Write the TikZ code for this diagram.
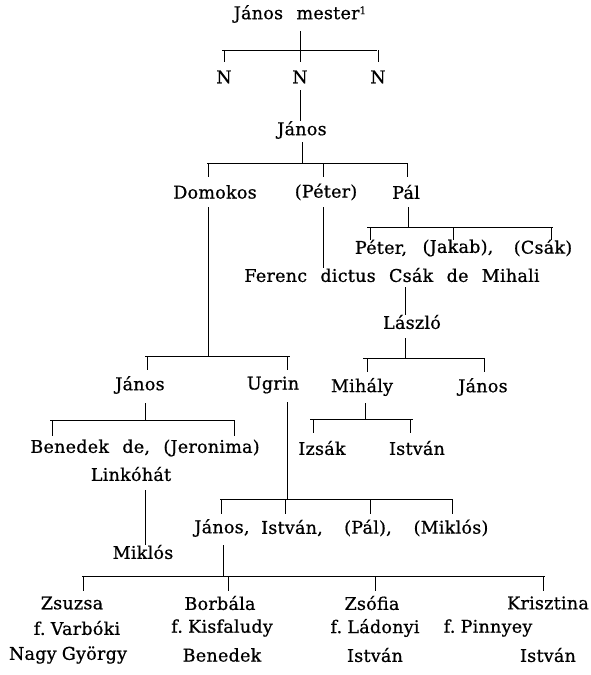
\documentclass[tikz,border=0pt]{standalone}
\usepackage{fontspec}
\setmainfont{DejaVu Serif}[LetterSpace=1.5,WordSpace=2.3,FakeBold=0.8]
\newcommand{\nsp}{\hspace{0.3em}}
\begin{document}
\begin{tikzpicture}[x=1pt,y=-1pt,
    person/.style={inner sep=0pt,font=\fontsize{17.5}{26}\selectfont},
    branch/.style={line width=0.8pt}]
  \useasboundingbox (0,0) rectangle (590,675);

  % Names
  \node[person] (jm) at (300,14) {János mester\raisebox{5pt}{\fontsize{10.5}{10}\selectfont 1}};
  \node[person] (na) at (224,77) {N};
  \node[person] (nb) at (300,77) {N};
  \node[person] (nc) at (378,77) {N};
  \node[person] (j1) at (302,130) {János};
  \node[person] (dom) at (215,192) {Domokos};
  \node[person] (pet) at (326,192) {(Péter)};
  \node[person] (pal) at (406,192) {Pál};
  \node[person] (pe2) at (381,248) {Péter,};
  \node[person] (jak) at (458,248) {(Jakab),};
  \node[person] (csk) at (543,248) {(Csák)};
  \node[person] (fer) at (392,275) {Ferenc dictus Csák de Mihali};
  \node[person] (las) at (412,322) {László};
  \node[person] (mih) at (362,387) {Mihály};
  \node[person] (j2) at (483,387) {János};
  \node[person] (j3) at (140,385) {János};
  \node[person] (ugr) at (273,385) {Ugrin};
  \node[person] (ben) at (145,448) {Benedek de, (Jeronima)};
  \node[person] (lin) at (131,474) {Linkóhát};
  \node[person] (izs) at (322,448) {Izsák};
  \node[person] (ist) at (417,448) {István};
  \node[person] (j4) at (222,528) {János,};
  \node[person] (is2) at (292,528) {István,};
  \node[person] (pa2) at (368,528) {(Pál),};
  \node[person] (mk2) at (451,528) {(Miklós)};
  \node[person] (mik) at (143,552) {Miklós};
  % Daughters
  \node[person] (zsu) at (72,603) {Zsuzsa};
  \node[person] (zsuh) at (77,628) {f.\nsp Varbóki};
  \node[person] (zsun) at (68,655) {Nagy\nsp György};
  \node[person] (bor) at (220,603) {Borbála};
  \node[person] (borh) at (222,628) {f.\nsp Kisfaludy};
  \node[person] (born) at (222,655) {Benedek};
  \node[person] (zso) at (372,603) {Zsófia};
  \node[person] (zsoh) at (375,628) {f.\nsp Ládonyi};
  \node[person] (zson) at (375,655) {István};
  \node[person] (kri) at (548,603) {Krisztina};
  \node[person] (krih) at (488,628) {f.\nsp Pinnyey};
  \node[person] (krin) at (548,655) {István};

  % Bars
  \coordinate (b1l) at (222,50);  \coordinate (b1r) at (377,50);
  \coordinate (b2l) at (207,163); \coordinate (b2r) at (408,163);
  \coordinate (b3l) at (367,227); \coordinate (b3r) at (553,227);
  \coordinate (b4l) at (145,356); \coordinate (b4r) at (290,356);
  \coordinate (b5l) at (363,358); \coordinate (b5r) at (485,358);
  \coordinate (b6l) at (50,420);  \coordinate (b6r) at (235,420);
  \coordinate (b7l) at (310,419); \coordinate (b7r) at (413,419);
  \coordinate (b8l) at (220,499); \coordinate (b8r) at (453,499);
  \coordinate (b9l) at (82,576);  \coordinate (b9r) at (545,576);
  \foreach \b in {b1,b2,b3,b4,b5,b6,b7,b8,b9}
    \draw[branch] (\b l) -- (\b r);

  % Lines of descent
  \draw[branch] (jm.south |- 0,31) -- (jm.south |- b1l);
  \foreach \n in {na,nb,nc}
    \draw[branch] (\n.north |- b1l) -- ++(0,12);
  \draw[branch] (nb.south |- 0,90) -- (j1.north -| nb);
  \draw[branch] (j1.south |- 0,142) -- (j1.south |- b2l);
  \draw[branch] ([xshift=1pt]b2l) -- ++(0,14);
  \draw[branch] (pet.north |- b2l) ++(-3,0) -- ++(0,14);
  \draw[branch] ([xshift=-0.5pt]b2r) -- ++(0,14);
  \draw[branch] ([xshift=1pt]b2l |- 0,207) -- ([xshift=1pt]b4l -| b2l);
  \draw[branch] (pet.south |- 0,207) ++(-3,0) -- ([xshift=-3pt]fer.north -| pet);
  \draw[branch] (pal.south |- 0,207) ++(2,0) -- ([xshift=2pt]b3l -| pal);
  \draw[branch] ([xshift=3pt]b3l) -- ++(0,13);
  \draw[branch] (jak.north |- b3l) ++(-5,0) -- ++(0,13);
  \draw[branch] ([xshift=-2pt]b3r) -- ++(0,13);
  \draw[branch] (las.north |- fer.south) ++(-7,5) -- ([xshift=-7pt]las.north);
  \draw[branch] (las.south |- 0,338) ++(-7,0) -- ([xshift=-7pt]b5l -| las);
  \draw[branch] ([xshift=4pt]b5l) -- ++(0,14);
  \draw[branch] ([xshift=-1pt]b5r) -- ++(0,14);
  \draw[branch] ([xshift=2pt]b4l) -- ++(0,14);
  \draw[branch] ([xshift=-3pt]b4r) -- ++(0,14);
  \draw[branch] (j3.south |- 0,403) ++(5,0) -- ([xshift=5pt]b6l -| j3);
  \draw[branch] ([xshift=2pt]b6l) -- ++(0,16);
  \draw[branch] ([xshift=-1pt]b6r) -- ++(0,16);
  \draw[branch] (mih.south |- 0,403) ++(3,0) -- ([xshift=3pt]b7l -| mih);
  \draw[branch] ([xshift=3pt]b7l) -- ++(0,14);
  \draw[branch] ([xshift=-3pt]b7r) -- ++(0,14);
  \draw[branch] (ugr.south |- 0,402) ++(14,0) -- ([xshift=14pt]b8l -| ugr);
  \draw[branch] ([xshift=1pt]b8l) -- ++(0,15);
  \draw[branch] (is2.north |- b8l) ++(-7,0) -- ++(0,15);
  \draw[branch] (pa2.north |- b8l) ++(2,0) -- ++(0,15);
  \draw[branch] ([xshift=-1pt]b8r) -- ++(0,15);
  \draw[branch] (lin.south |- 0,490) ++(14,0) -- ([xshift=14pt]mik.north -| lin);
  \draw[branch] (j4.south |- 0,545) ++(1,0) -- ([xshift=1pt]b9l -| j4);
  \draw[branch] ([xshift=1pt]b9l) -- ++(0,15);
  \draw[branch] (bor.north |- b9l) ++(8,0) -- ++(0,15);
  \draw[branch] (zso.north |- b9l) ++(3,0) -- ++(0,15);
  \draw[branch] ([xshift=-2pt]b9r) -- ++(0,15);
\end{tikzpicture}
\end{document}
